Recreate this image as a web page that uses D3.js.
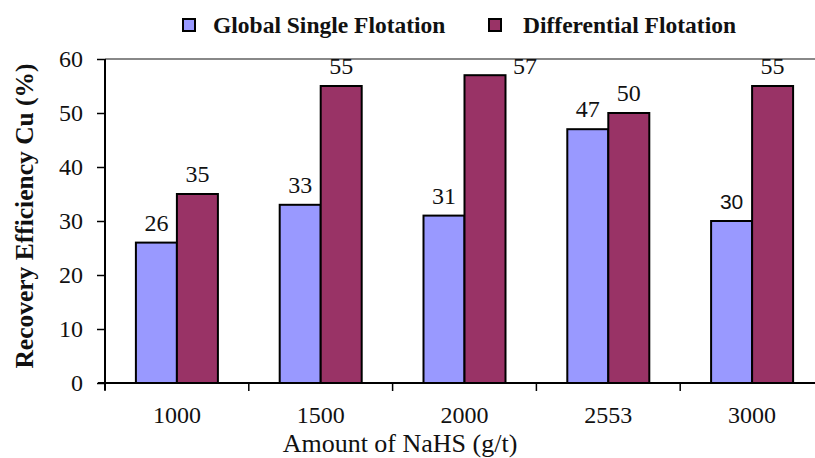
<!DOCTYPE html>
<html>
<head>
<meta charset="utf-8">
<script src="https://cdn.jsdelivr.net/npm/d3@7"></script>
<style>
  html, body { margin: 0; padding: 0; background: #fff; }
  svg { display: block; }
</style>
</head>
<body>
<div id="chart"></div>
<script>
// Copper recovery efficiency for each NaHS dosage
const categories = ["1000", "1500", "2000", "2553", "3000"];
const seriesNames = ["Global Single Flotation", "Differential Flotation"];
const globalSingle = [26, 33, 31, 47, 30];
const differential = [35, 55, 57, 50, 55];
const yTicks = [0, 10, 20, 30, 40, 50, 60];
const colors = ["#9999ff", "#993366"];

const W = 815, H = 458;
const margin = { left: 105, right: -9, top: 59, bottom: 75 };

const svg = d3.select("#chart").append("svg")
  .attr("width", W).attr("height", H);

const x = d3.scaleBand()
  .domain(categories)
  .range([margin.left, W - margin.right])
  .paddingInner(0).paddingOuter(0);

const y = d3.scaleLinear()
  .domain([0, 60])
  .range([H - margin.bottom, margin.top]);

const barW = 41;
const serif = "'Liberation Serif', 'Times New Roman', serif";
const sans = "'Liberation Sans', Arial, sans-serif";

// top frame line
svg.append("line")
  .attr("x1", margin.left).attr("x2", W)
  .attr("y1", y(60)).attr("y2", y(60))
  .attr("stroke", "#888").attr("stroke-width", 2);

// bars
const rows = categories.map((c, i) => ({ c, vals: [globalSingle[i], differential[i]] }));
const groups = svg.append("g").selectAll("g").data(rows).join("g");
groups.selectAll("rect")
  .data(d => d.vals.map((v, k) => ({ c: d.c, v, k })))
  .join("rect")
  .attr("x", d => x(d.c) + x.bandwidth() / 2 - barW + d.k * barW)
  .attr("y", d => y(d.v))
  .attr("width", barW)
  .attr("height", d => y(0) - y(d.v))
  .attr("fill", d => colors[d.k])
  .attr("stroke", "#000")
  .attr("stroke-width", 2);

// value labels (one label nudged to the side of its bar)
const labelShift = { "2000-1": [40, 11] };
const shift = d => labelShift[d.c + "-" + d.k] || [0, 0];
groups.selectAll("text")
  .data(d => d.vals.map((v, k) => ({ c: d.c, v, k })))
  .join("text")
  .attr("x", d => x(d.c) + x.bandwidth() / 2 - barW / 2 + d.k * barW + shift(d)[0])
  .attr("y", d => y(d.v) - 12 + shift(d)[1])
  .attr("text-anchor", "middle")
  .attr("font-family", d => (d.c === "3000" && d.k === 0) ? sans : serif)
  .attr("font-size", d => (d.c === "3000" && d.k === 0) ? 21 : 24)
  .attr("fill", "#111")
  .text(d => d.v);

// y axis
const yAxis = svg.append("g")
  .attr("transform", `translate(${margin.left},0)`)
  .call(d3.axisLeft(y).tickValues(yTicks).tickSize(8).tickPadding(14).tickSizeOuter(0));
yAxis.select(".domain").attr("stroke", "#000").attr("stroke-width", 2)
  .attr("d", `M0,${y(60)}V${y(0) + 7}`);
yAxis.selectAll(".tick line").attr("stroke", "#000").attr("stroke-width", 1.5);
yAxis.selectAll(".tick text")
  .attr("font-family", serif).attr("font-size", 24).attr("fill", "#111");

// x axis with ticks on category boundaries
const xAxisG = svg.append("g").attr("transform", `translate(0,${y(0)})`);
xAxisG.append("line")
  .attr("x1", margin.left - 7).attr("x2", W)
  .attr("y1", 0).attr("y2", 0)
  .attr("stroke", "#000").attr("stroke-width", 2);
xAxisG.selectAll("line.tk")
  .data(categories)
  .join("line").attr("class", "tk")
  .attr("x1", d => x(d)).attr("x2", d => x(d))
  .attr("y1", 0).attr("y2", 8)
  .attr("stroke", "#000").attr("stroke-width", 1.5);
xAxisG.selectAll("text")
  .data(categories)
  .join("text")
  .attr("x", d => x(d) + x.bandwidth() / 2)
  .attr("y", 40)
  .attr("text-anchor", "middle")
  .attr("font-family", serif).attr("font-size", 24).attr("fill", "#111")
  .text(d => d);

// axis titles
svg.append("text")
  .attr("x", 400).attr("y", 452)
  .attr("text-anchor", "middle")
  .attr("font-family", serif).attr("font-size", 26).attr("fill", "#111")
  .text("Amount of NaHS (g/t)");

svg.append("text")
  .attr("transform", `translate(33,216) rotate(-90)`)
  .attr("text-anchor", "middle")
  .attr("font-family", serif).attr("font-size", 25.5).attr("font-weight", "bold").attr("fill", "#111")
  .text("Recovery Efficiency Cu (%)");

// legend
const legendX = [183, 489];
const legendTextDx = [30, 34];
const legend = svg.append("g").selectAll("g").data(seriesNames).join("g")
  .attr("transform", (d, i) => `translate(${legendX[i]},19)`);
legend.append("rect")
  .attr("width", 12).attr("height", 12)
  .attr("fill", (d, i) => colors[i])
  .attr("stroke", "#000").attr("stroke-width", 2);
legend.append("text")
  .attr("x", (d, i) => legendTextDx[i]).attr("y", 14)
  .attr("font-family", serif).attr("font-size", 23.5).attr("font-weight", "bold").attr("fill", "#111")
  .text(d => d);
</script>
</body>
</html>
